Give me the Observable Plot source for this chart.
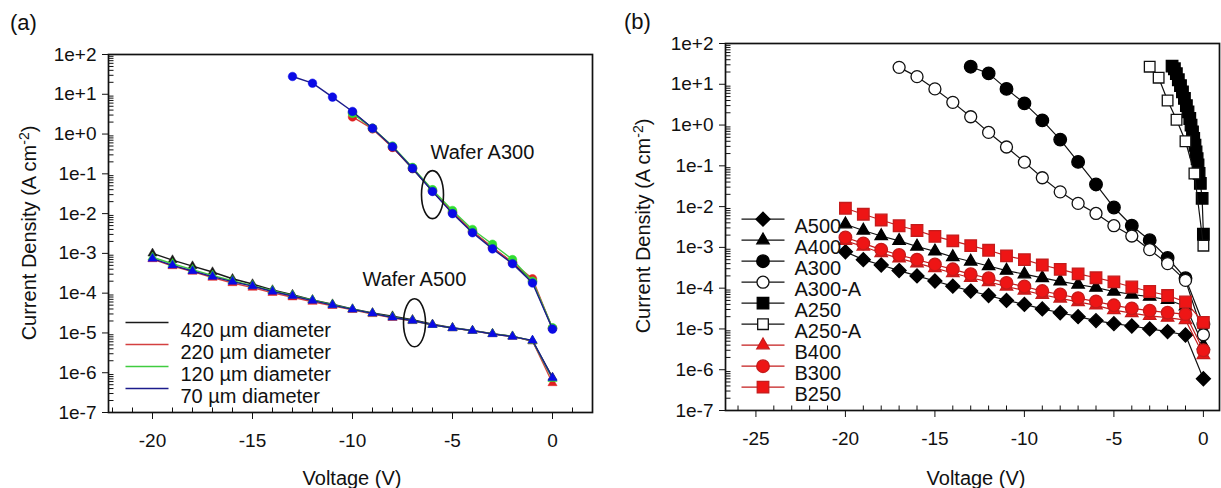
<!DOCTYPE html>
<html><head><meta charset="utf-8">
<script src="https://cdn.jsdelivr.net/npm/d3@7"></script>
<script src="https://cdn.jsdelivr.net/npm/@observablehq/plot@0.6"></script>
<style>
body{margin:0;background:#fff;width:1221px;height:488px;overflow:hidden;position:relative;font-family:"Liberation Sans",Arial,sans-serif;}
#pa,#pb{position:absolute;top:0}
#pa{left:0}#pb{left:610px}
.pl{position:absolute;font-size:22px;color:#111;line-height:24px}
</style></head><body>
<div id="pa"></div><div id="pb"></div>
<div class="pl" style="left:10px;top:11px">(a)</div>
<div class="pl" style="left:624px;top:10px">(b)</div>
<script>
// ---------- Panel (a) data ----------
const aV300 = [-13,-12,-11,-10,-9,-8,-7,-6,-5,-4,-3,-2,-1,0];
const aJ300_70 = [28,19,8.5,3.7,1.4,0.48,0.138,0.036,0.0100,0.0033,0.0013,0.00055,0.00018,1.25e-5];
const aV300b = [-10,-9,-8,-7,-6,-5,-4,-3,-2,-1,0];
const aJ300_420 = [3.5,1.4,0.47,0.135,0.037,0.0105,0.0035,0.0014,0.00058,0.0002,1.3e-5];
const aJ300_220 = [2.7,1.35,0.46,0.14,0.038,0.011,0.0036,0.0014,0.0006,0.00023,1.3e-5];
const aJ300_120 = [3.3,1.4,0.5,0.145,0.04,0.012,0.0040,0.0017,0.0007,0.0002,1.35e-5];
const aV500 = [-20,-19,-18,-17,-16,-15,-14,-13,-12,-11,-10,-9,-8,-7,-6,-5,-4,-3,-2,-1,0];
const aJ500_420 = [1.0e-3,6.8e-4,4.8e-4,3.4e-4,2.3e-4,1.7e-4,1.2e-4,9.2e-5,6.8e-5,5.3e-5,4.0e-5,3.2e-5,2.65e-5,2.15e-5,1.65e-5,1.35e-5,1.15e-5,9.6e-6,8.3e-6,6.2e-6,7.6e-7];
const aJ500_220 = [7.2e-4,4.8e-4,3.5e-4,2.45e-4,1.8e-4,1.38e-4,1.02e-4,7.9e-5,6.1e-5,4.8e-5,3.8e-5,3.0e-5,2.4e-5,2.0e-5,1.6e-5,1.32e-5,1.13e-5,9.4e-6,8.1e-6,6.3e-6,5.5e-7];
const aJ500_120 = [8.0e-4,5.5e-4,3.9e-4,2.8e-4,2.05e-4,1.55e-4,1.15e-4,8.8e-5,6.7e-5,5.1e-5,3.95e-5,3.1e-5,2.5e-5,2.05e-5,1.6e-5,1.33e-5,1.14e-5,9.5e-6,8.2e-6,6.4e-6,7.0e-7];
const aJ500_70 = [7.4e-4,5.0e-4,3.6e-4,2.6e-4,1.95e-4,1.5e-4,1.1e-4,8.5e-5,6.5e-5,5.0e-5,3.9e-5,3.1e-5,2.45e-5,2.05e-5,1.6e-5,1.33e-5,1.14e-5,9.4e-6,8.1e-6,6.5e-6,7.4e-7];
const aLegend = ["420 µm diameter","220 µm diameter","120 µm diameter","70 µm diameter"];
const aNoteText = ["Wafer A300","Wafer A500"];
const aNoteV = [-6.1,-9.5];
const aNoteJ = [0.34,2.2e-4];
const aOvalV = [-6.0,-6.9];
const aOvalJ = [0.030,1.8e-5];

// ---------- Panel (b) data ----------
const bV20 = [-20,-19,-18,-17,-16,-15,-14,-13,-12,-11,-10,-9,-8,-7,-6,-5,-4,-3,-2,-1,0];
const bA500 = [7.8e-4,5.0e-4,3.7e-4,2.7e-4,2.0e-4,1.5e-4,1.12e-4,8.5e-5,6.6e-5,5.0e-5,4.0e-5,3.1e-5,2.5e-5,2.0e-5,1.6e-5,1.35e-5,1.18e-5,1.0e-5,8.6e-6,7.1e-6,6.0e-7];
const bA400 = [3.7e-3,2.6e-3,1.9e-3,1.45e-3,1.05e-3,8.0e-4,5.8e-4,4.5e-4,3.5e-4,2.7e-4,2.2e-4,1.78e-4,1.47e-4,1.23e-4,1.03e-4,8.3e-5,7.0e-5,6.2e-5,5.2e-5,3.6e-5,4.0e-6];
const bA300V = [-13,-12,-11,-10,-9,-8,-7,-6,-5,-4,-3,-2,-1,0];
const bA300 = [27,18.5,7.7,3.4,1.3,0.44,0.125,0.035,0.0095,0.0034,0.0015,5.5e-4,1.75e-4,1.3e-5];
const bA300AV = [-17,-16,-15,-14,-13,-12,-11,-10,-9,-8,-7,-6,-5,-4,-3,-2,-1,0];
const bA300A = [26,15.4,7.7,3.6,1.6,0.66,0.29,0.123,0.051,0.023,0.012,0.0068,0.0034,0.0019,8.8e-4,4.0e-4,1.55e-4,7.2e-6];
const bA250V = [-1.75,-1.62,-1.51,-1.40,-1.28,-1.17,-1.06,-0.95,-0.86,-0.76,-0.69,-0.61,-0.54,-0.47,-0.41,-0.35,-0.30,-0.24,-0.17,-0.07,0];
const bA250 = [28,24,18.2,12.9,9.3,6.5,4.5,3.0,2.1,1.45,1.0,0.68,0.47,0.32,0.22,0.15,0.105,0.065,0.037,0.016,0.0021];
const bA250AV = [-3,-2.5,-2,-1.5,-1,-0.5,0];
const bA250A = [27,14.5,4.0,1.35,0.40,0.065,0.0011];
const bB400 = [1.45e-3,1.05e-3,7.3e-4,5.4e-4,4.1e-4,3.1e-4,2.35e-4,1.8e-4,1.42e-4,1.1e-4,8.8e-5,6.9e-5,5.6e-5,4.6e-5,3.8e-5,2.9e-5,2.45e-5,2.1e-5,1.9e-5,1.65e-5,2.3e-6];
const bB300 = [1.75e-3,1.25e-3,8.8e-4,6.5e-4,5.0e-4,3.8e-4,2.9e-4,2.2e-4,1.75e-4,1.35e-4,1.1e-4,8.5e-5,7.0e-5,5.7e-5,4.7e-5,3.8e-5,3.2e-5,2.8e-5,2.5e-5,2.3e-5,3.0e-6];
const bB250 = [9.1e-3,6.5e-3,4.7e-3,3.4e-3,2.6e-3,1.86e-3,1.45e-3,1.1e-3,8.5e-4,6.2e-4,5.0e-4,3.7e-4,2.9e-4,2.25e-4,1.8e-4,1.42e-4,1.07e-4,8.3e-5,6.6e-5,4.6e-5,1.45e-5];
const bNames = ["A500","A400","A300","A300-A","A250","A250-A","B400","B300","B250"];

// ---------- ticks ----------
const decades = [1e-7,1e-6,1e-5,1e-4,1e-3,1e-2,1e-1,1e0,1e1,1e2];
const minorY = [];
for (let e = -7; e < 2; e++) for (let k = 2; k <= 9; k++) minorY.push(k * Math.pow(10, e));
const fmt = d => { const e = Math.round(Math.log10(d)); return "1e" + (e >= 0 ? "+" : "-") + Math.abs(e); };

// ---------- symbols ----------
const tickRight = {draw(ctx){ ctx.moveTo(0,0); ctx.lineTo(5,0); }};
const tickUp = {draw(ctx){ ctx.moveTo(0,0); ctx.lineTo(0,-5); }};
const legLine = {draw(ctx){ ctx.moveTo(-21.5,0); ctx.lineTo(21.5,0); }};
function ellipseSym(rx, ry){
  const k = 0.5523;
  return {draw(ctx){
    ctx.moveTo(rx,0);
    ctx.bezierCurveTo(rx, ry*k, rx*k, ry, 0, ry);
    ctx.bezierCurveTo(-rx*k, ry, -rx, ry*k, -rx, 0);
    ctx.bezierCurveTo(-rx, -ry*k, -rx*k, -ry, 0, -ry);
    ctx.bezierCurveTo(rx*k, -ry, rx, -ry*k, rx, 0);
    ctx.closePath();
  }};
}
const rows = (V, J) => V.map((v, i) => ({v, j: J[i]}));
const FONT = "'Liberation Sans', Arial, sans-serif";
const INK = "#111";

function axes(majorX, minorX) {
  return [
    Plot.frame({stroke: INK, strokeWidth: 1.7}),
    Plot.axisY({ticks: decades, tickFormat: fmt, tickSize: 6, tickPadding: 6, label: null, fontSize: 19}),
    Plot.dot(minorY, {y: d => d, frameAnchor: "left", symbol: tickRight, stroke: INK, fill: "none", strokeWidth: 1}),
    Plot.axisX({ticks: majorX, tickSize: 7, tickPadding: 14, label: null, fontSize: 19, tickFormat: d => String(d)}),
    Plot.dot(minorX, {x: d => d, frameAnchor: "bottom", symbol: tickUp, stroke: INK, fill: "none", strokeWidth: 1})
  ];
}

function addLabels(svg, xl, yl) {
  const s = d3.select(svg);
  s.append("text").attr("x", xl[0]).attr("y", xl[1]).attr("text-anchor", "middle")
    .attr("dominant-baseline", "central").attr("font-size", 20).attr("font-family", FONT).attr("fill", INK)
    .text("Voltage (V)");
  const t = s.append("text").attr("transform", `translate(${yl[0]},${yl[1]}) rotate(-90)`)
    .attr("text-anchor", "middle").attr("font-size", 20).attr("font-family", FONT).attr("fill", INK).attr("dy", "0.35em");
  t.append("tspan").text("Current Density (A cm");
  t.append("tspan").attr("dy", -7).attr("font-size", 14).text("-2");
  t.append("tspan").attr("dy", 7).text(")");
}

// ---------- Panel (a) ----------
{
  const cols = [
    {line: "#1a1a1a", fill: "#1a1a1a"},
    {line: "#d44040", fill: "#e02020"},
    {line: "#40cc40", fill: "#30dd30"},
    {line: "#1c1c8c", fill: "#0a0ae6"}
  ];
  const a300 = [rows(aV300b, aJ300_420), rows(aV300b, aJ300_220), rows(aV300b, aJ300_120), rows(aV300, aJ300_70)];
  const a500 = [rows(aV500, aJ500_420), rows(aV500, aJ500_220), rows(aV500, aJ500_120), rows(aV500, aJ500_70)];
  const marks = [];
  for (let i = 0; i < 4; i++) {
    marks.push(Plot.line(a500[i], {x: "v", y: "j", stroke: cols[i].line, strokeWidth: 1.4}));
    marks.push(Plot.dot(a500[i], {x: "v", y: "j", symbol: "triangle", r: 3.4, fill: cols[i].fill, stroke: cols[i].fill, strokeWidth: 0.5}));
    marks.push(Plot.line(a300[i], {x: "v", y: "j", stroke: cols[i].line, strokeWidth: 1.4}));
    marks.push(Plot.dot(a300[i], {x: "v", y: "j", symbol: "circle", r: 4.3, fill: cols[i].fill, stroke: cols[i].fill, strokeWidth: 0.5}));
  }
  const oval = ellipseSym(11, 24);
  marks.push(Plot.dot(aOvalV.map((v, i) => ({v, j: aOvalJ[i]})), {x: "v", y: "j", symbol: oval, fill: "none", stroke: INK, strokeWidth: 1.6}));
  marks.push(Plot.text(aNoteText.map((t, i) => ({t, v: aNoteV[i], j: aNoteJ[i]})), {x: "v", y: "j", text: "t", textAnchor: "start", fontSize: 20, fill: INK}));
  aLegend.forEach((name, i) => {
    const dy = 268 + 22 * i;
    marks.push(Plot.dot([0], {frameAnchor: "top-left", dx: 38.5, dy, symbol: legLine, stroke: cols[i].line, fill: "none", strokeWidth: 1.5}));
    marks.push(Plot.text([name], {frameAnchor: "top-left", dx: 72, dy, text: d => d, textAnchor: "start", fontSize: 20, fill: INK}));
  });
  const svg = Plot.plot({
    width: 610, height: 488,
    marginLeft: 108, marginRight: 18, marginTop: 54, marginBottom: 76,
    x: {domain: [-22.2, 2]},
    y: {type: "log", domain: [1e-7, 1e2]},
    style: {fontFamily: FONT, fontSize: "19px", color: INK, background: "transparent"},
    marks: [...axes([-20,-15,-10,-5,0], [-22,-21,-19,-18,-17,-16,-14,-13,-12,-11,-9,-8,-7,-6,-4,-3,-2,-1,1,2]), ...marks]
  });
  addLabels(svg, [352, 478], [29, 233]);
  document.getElementById("pa").appendChild(svg);
}

// ---------- Panel (b) ----------
{
  const RED = "#ee1515", REDL = "#c41c1c";
  const styles = [
    {symbol: "diamond2", r: 6.3, fill: "#000", stroke: "#000", line: INK},
    {symbol: "triangle", r: 4.6, fill: "#000", stroke: "#000", line: INK},
    {symbol: "circle", r: 6.3, fill: "#000", stroke: "#000", line: INK},
    {symbol: "circle", r: 6.0, fill: "#fff", stroke: INK, line: INK},
    {symbol: "square", r: 6.5, fill: "#000", stroke: "#000", line: INK},
    {symbol: "square", r: 6.0, fill: "#fff", stroke: INK, line: INK},
    {symbol: "triangle", r: 4.6, fill: RED, stroke: REDL, line: REDL},
    {symbol: "circle", r: 6.3, fill: RED, stroke: REDL, line: REDL},
    {symbol: "square", r: 6.5, fill: RED, stroke: REDL, line: REDL}
  ];
  const data = [
    rows(bV20, bA500), rows(bV20, bA400), rows(bA300V, bA300), rows(bA300AV, bA300A),
    rows(bA250V, bA250), rows(bA250AV, bA250A), rows(bV20, bB400), rows(bV20, bB300), rows(bV20, bB250)
  ];
  const marks = [];
  data.forEach((d, i) => {
    const s = styles[i];
    marks.push(Plot.line(d, {x: "v", y: "j", stroke: s.line, strokeWidth: 1.2}));
    marks.push(Plot.dot(d, {x: "v", y: "j", symbol: s.symbol, r: s.r, fill: s.fill, stroke: s.stroke, strokeWidth: 1.3}));
  });
  bNames.forEach((name, i) => {
    const s = styles[i];
    const dy = 175.7 + 21 * i;
    marks.push(Plot.dot([0], {frameAnchor: "top-left", dx: 37.5, dy, symbol: legLine, stroke: s.line, fill: "none", strokeWidth: 1.3}));
    marks.push(Plot.dot([0], {frameAnchor: "top-left", dx: 37.5, dy, symbol: s.symbol, r: s.r, fill: s.fill, stroke: s.stroke, strokeWidth: 1.3}));
    marks.push(Plot.text([name], {frameAnchor: "top-left", dx: 69, dy, text: d => d, textAnchor: "start", fontSize: 20, fill: INK}));
  });
  const svg = Plot.plot({
    width: 611, height: 488,
    marginLeft: 115, marginRight: 2, marginTop: 43, marginBottom: 78,
    x: {domain: [-26.7, 0.9]},
    y: {type: "log", domain: [1e-7, 1e2]},
    style: {fontFamily: FONT, fontSize: "19px", color: INK, background: "transparent"},
    marks: [...axes([-25,-20,-15,-10,-5,0], [-26,-24,-23,-22,-21,-19,-18,-17,-16,-14,-13,-12,-11,-9,-8,-7,-6,-4,-3,-2,-1]), ...marks]
  });
  addLabels(svg, [366, 478], [33, 226]);
  document.getElementById("pb").appendChild(svg);
}
</script>
</body></html>
